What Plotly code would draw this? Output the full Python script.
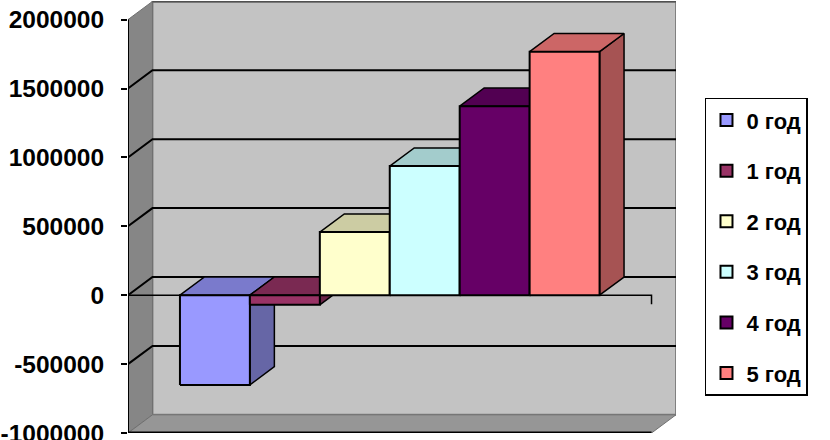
import plotly.graph_objects as go

# --- data ---
series_names = ["0 год", "1 год", "2 год", "3 год", "4 год", "5 год"]
series_values = [-651000, -70000, 458000, 937000, 1372000, 1767000]
tick_values = [2000000, 1500000, 1000000, 500000, 0, -500000, -1000000]
tick_labels = ["2000000", "1500000", "1000000", "500000", "0", "-500000", "-1000000"]

front_colors = ["#9999FF", "#993366", "#FFFFCC", "#CCFFFF", "#660066", "#FF8080"]
top_colors = ["#7A7ACC", "#7A2952", "#CCCCA3", "#A3CCCC", "#520052", "#CC6666"]
side_colors = ["#6666A6", "#6B2447", "#B3B38F", "#8FB3B3", "#470047", "#A65353"]

# --- pseudo-3D layout constants (axis units) ---
Y_MIN, Y_MAX = -1000000, 2000000
DX, DY = 0.35, 132000
X_LEFT, X_RIGHT = -0.743, 6.743

fig = go.Figure()


def poly(xs, ys, fill, line="#000000", width=1.5):
    fig.add_trace(go.Scatter(
        x=xs + xs[:1], y=ys + ys[:1], mode="lines", fill="toself", fillcolor=fill,
        line=dict(color=line, width=width), showlegend=False, hoverinfo="skip", cliponaxis=False))


def path(xs, ys, color="#000000", width=2):
    fig.add_trace(go.Scatter(
        x=xs, y=ys, mode="lines", line=dict(color=color, width=width),
        showlegend=False, hoverinfo="skip", cliponaxis=False))


# walls and floor
poly([X_LEFT + DX, X_RIGHT + DX, X_RIGHT + DX, X_LEFT + DX],
     [Y_MIN + DY, Y_MIN + DY, Y_MAX + DY, Y_MAX + DY], "#C3C3C3", "#808080", 2)
poly([X_LEFT, X_LEFT + DX, X_LEFT + DX, X_LEFT],
     [Y_MIN, Y_MIN + DY, Y_MAX + DY, Y_MAX], "#868686", "#707070", 1)
poly([X_LEFT, X_RIGHT, X_RIGHT + DX, X_LEFT + DX],
     [Y_MIN, Y_MIN, Y_MIN + DY, Y_MIN + DY], "#969696", "#707070", 1)
path([X_LEFT + DX, X_RIGHT + DX], [Y_MAX + DY, Y_MAX + DY], "#505050", 2)

# gridlines on the walls
for v in tick_values[1:-1]:
    path([X_LEFT, X_LEFT + DX, X_RIGHT + DX], [v, v + DY, v + DY])

# zero plane edge and end tick
path([X_LEFT, X_RIGHT, X_RIGHT], [0, 0, -65000], "#000000", 1.5)

# value axis and floor front edge
path([X_LEFT, X_LEFT], [Y_MIN, Y_MAX], "#000000", 2)
path([X_LEFT, X_RIGHT], [Y_MIN, Y_MIN], "#000000", 3)

# columns, left to right
for i, v in enumerate(series_values):
    x0, x1 = i, i + 1
    hi = max(v, 0)
    lo = min(v, 0)
    poly([x1, x1 + DX, x1 + DX, x1], [lo, lo + DY, hi + DY, hi], side_colors[i])
    poly([x0, x1, x1 + DX, x0 + DX], [hi, hi, hi + DY, hi + DY], top_colors[i])
    poly([x0, x1, x1, x0], [lo, lo, hi, hi], front_colors[i], "#000000", 2)

# legend entries
for name, color in zip(series_names, front_colors):
    fig.add_trace(go.Scatter(
        x=[None], y=[None], mode="markers", name=name, legendgroup=name,
        marker=dict(symbol="square", size=11, color=color, line=dict(color="#000000", width=2))))

fig.update_layout(
    width=830, height=440, autosize=False,
    margin=dict(l=128, r=154, t=1, b=7, autoexpand=False),
    paper_bgcolor="#FFFFFF", plot_bgcolor="#FFFFFF",
    font=dict(family="Liberation Sans", color="#000000"),
    showlegend=True,
    legend=dict(
        x=1.0529, y=0.776, xanchor="left", yanchor="top",
        bgcolor="#FFFFFF", bordercolor="#000000", borderwidth=1.5,
        font=dict(size=22, family="Liberation Sans", weight=700),
        tracegroupgap=19, itemsizing="constant", traceorder="grouped",
        entrywidth=74, entrywidthmode="pixels"),
    xaxis=dict(range=[X_LEFT, X_RIGHT + DX], visible=False, fixedrange=True),
    yaxis=dict(
        range=[Y_MIN, Y_MAX + DY + 3000], tickmode="array", tickvals=tick_values, ticktext=tick_labels,
        ticks="outside", ticklen=6, tickwidth=1.5, tickcolor="#000000",
        showgrid=False, zeroline=False, showline=False,
        ticklabeloverflow="allow", ticklabelstandoff=12,
        tickfont=dict(size=24.5, family="Liberation Sans", weight=700, color="#000000"),
        fixedrange=True),
)

fig.write_html("out.html", config={"displayModeBar": False},
               post_script="document.body.style.margin='0';")
